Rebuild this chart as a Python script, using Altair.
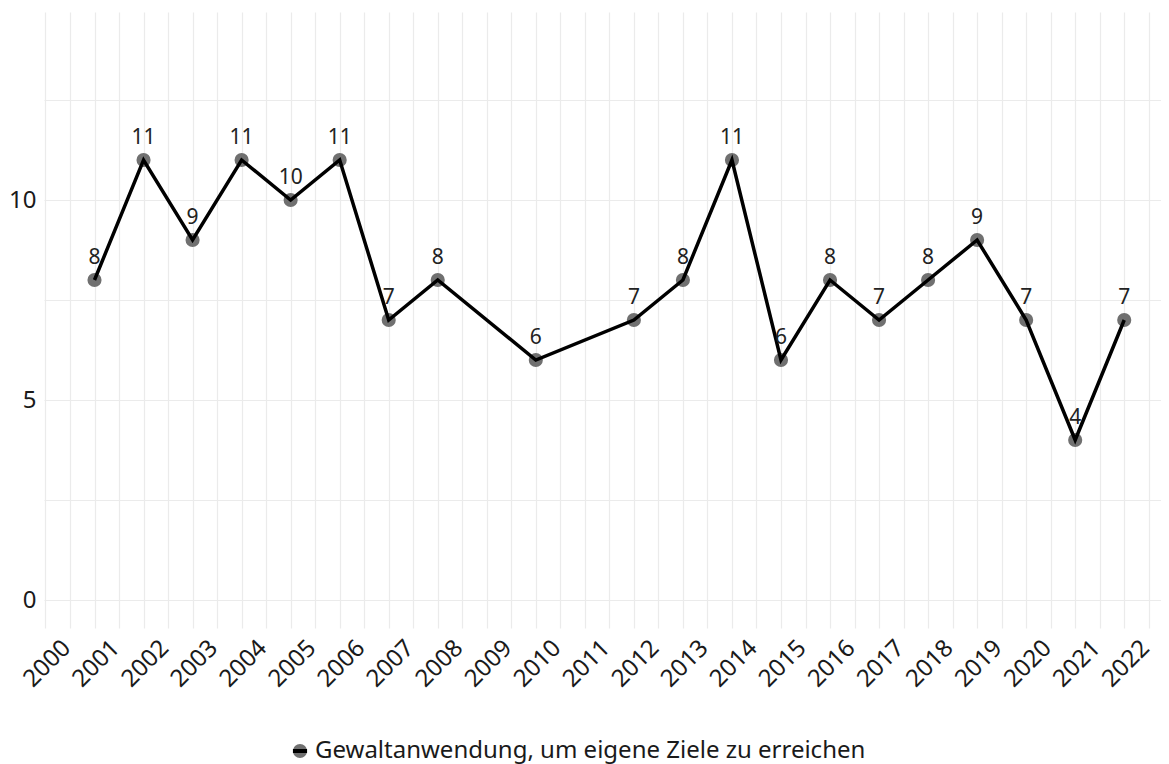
import altair as alt
import pandas as pd

years = [2001, 2002, 2003, 2004, 2005, 2006, 2007, 2008, 2010, 2012,
         2013, 2014, 2015, 2016, 2017, 2018, 2019, 2020, 2021, 2022]
values = [8, 11, 9, 11, 10, 11, 7, 8, 6, 7,
          8, 11, 6, 8, 7, 8, 9, 7, 4, 7]
series_name = "Gewaltanwendung, um eigene Ziele zu erreichen"

x_ticks = [y / 2 for y in range(4000, 4046)]  # 2000, 2000.5, ... 2022.5
y_ticks = [0, 2.5, 5, 7.5, 10, 12.5]

df = pd.DataFrame({"year": years, "value": values, "series": series_name})

FONT = "Noto Sans"

x_axis = alt.Axis(
    values=x_ticks,
    labelExpr="datum.value % 1 == 0 ? datum.value : ''",
    labelAngle=-45,
    labelAlign="right",
    labelBaseline="middle",
    labelOffset=21,
    labelPadding=16,
    labelFontSize=24,
    labelColor="#1a1a1a",
    labelFont=FONT,
    labelOverlap=False,
    labelFlush=False,
    ticks=False,
    domain=False,
    grid=True,
    gridColor="#ebebeb",
    gridWidth=1.2,
    title=None,
)
y_axis = alt.Axis(
    values=y_ticks,
    labelExpr="datum.value % 5 == 0 ? datum.value : ''",
    labelFontSize=24,
    labelColor="#1a1a1a",
    labelFont=FONT,
    labelPadding=8,
    labelOverlap=False,
    ticks=False,
    domain=False,
    grid=True,
    gridColor="#ebebeb",
    gridWidth=1.2,
    title=None,
)
x_scale = alt.Scale(domain=[1999.97, 2022.75], nice=False, zero=False)
y_scale = alt.Scale(domain=[-0.7, 14.7], nice=False, zero=False)

x_enc = alt.X("year:Q", scale=x_scale, axis=x_axis)
y_enc = alt.Y("value:Q", scale=y_scale, axis=y_axis)

base = alt.Chart(df)

LEG_X = 244
LEG_Y = 727

points = base.mark_point(filled=True, size=200, opacity=1).encode(
    x=x_enc,
    y=y_enc,
    fill=alt.Fill(
        "series:N",
        scale=alt.Scale(range=["#707070"]),
        legend=alt.Legend(
            orient="none",
            legendX=LEG_X,
            legendY=LEG_Y,
            title=None,
            symbolType="circle",
            symbolSize=200,
            symbolStrokeWidth=0,
            labelFontSize=24,
            labelFont=FONT,
            labelColor="#1a1a1a",
            labelLimit=900,
            labelOffset=3,
            padding=0,
        ),
    ),
)

line = base.mark_line(color="black", strokeWidth=3.5).encode(
    x=x_enc,
    y=y_enc,
    stroke=alt.Stroke(
        "series:N",
        scale=alt.Scale(range=["#000000"]),
        legend=alt.Legend(
            orient="none",
            legendX=LEG_X,
            legendY=LEG_Y,
            title=None,
            symbolType="stroke",
            symbolSize=200,
            symbolStrokeWidth=4,
            labelExpr="''",
            labelFontSize=24,
            labelOffset=3,
            padding=0,
        ),
    ),
)

labels = base.mark_text(dy=-22, fontSize=21, font=FONT, color="#222222").encode(
    x=x_enc,
    y=y_enc,
    text="value:Q",
)

chart = (
    alt.layer(points, line, labels)
    .resolve_scale(fill="independent", stroke="independent")
    .properties(
        width=1117,
        height=616,
        background="white",
        autosize=alt.AutoSizeParams(type="none"),
        padding={"left": 36, "top": 4, "right": 0, "bottom": 136},
    )
    .configure_view(strokeWidth=0, stroke="transparent")
)

chart.save("out.html", embed_options={"renderer": "svg", "actions": False})
